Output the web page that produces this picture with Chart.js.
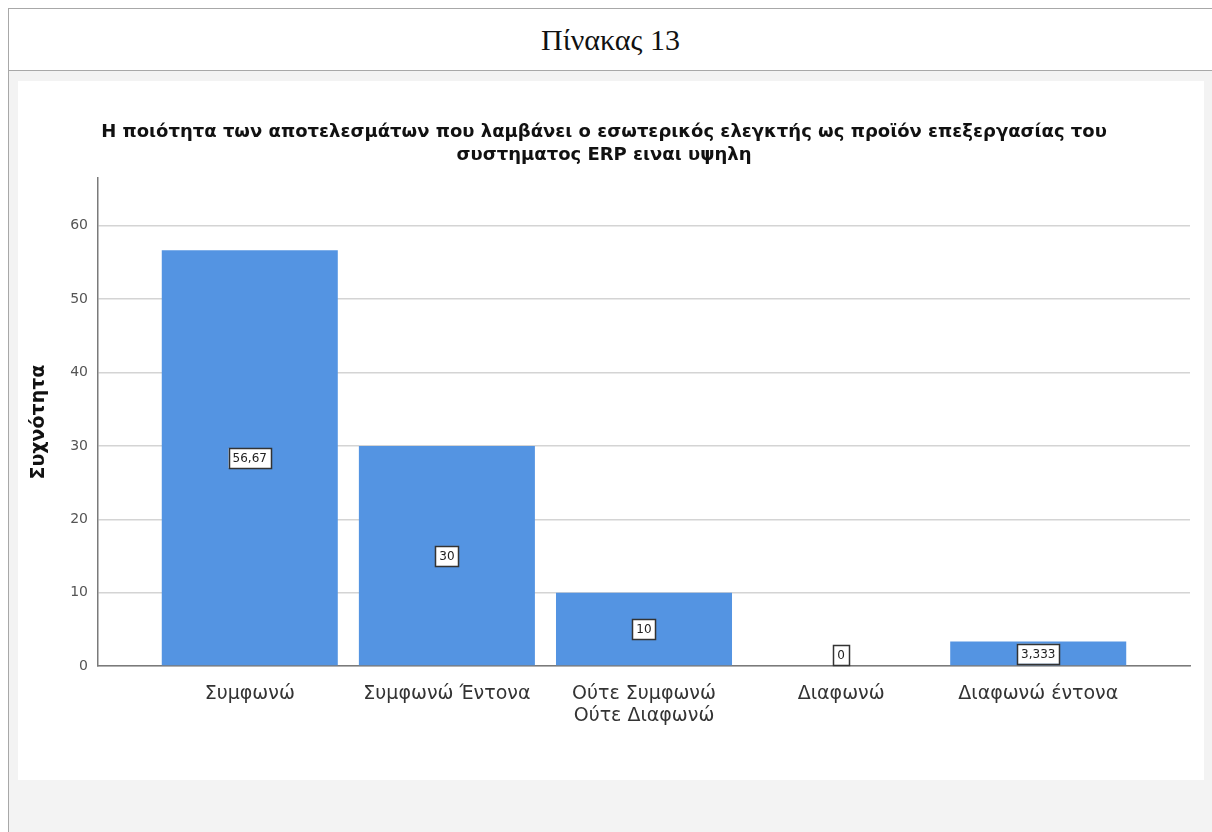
<!DOCTYPE html>
<html lang="el">
<head>
<meta charset="utf-8">
<title>Πίνακας 13</title>
<script src="https://cdn.jsdelivr.net/npm/chart.js@4"></script>
<style>
    body { margin: 0; background: #fff; font-family: "DejaVu Sans", sans-serif; }
    .frame { position: absolute; left: 8px; top: 8px; width: 1220px; height: 840px; border-left: 1px solid #a8a8a8; border-top: 1px solid #a8a8a8; }
    .head { height: 61px; border-bottom: 1px solid #a8a8a8; font-family: "Liberation Serif", "Times New Roman", serif; font-size: 30px; color: #111; line-height: 61px; text-align: center; width: 1203px; }
    .body { background: #f3f3f3; height: 800px; padding: 10px 0 0 9px; }
    .panel { background: #fff; width: 1186px; height: 699px; position: relative; }
</style>
</head>
<body>
<div class="frame">
    <div class="head">Πίνακας 13</div>
    <div class="body">
        <div class="panel"><canvas id="grafico" width="1186" height="699"></canvas></div>
    </div>
</div>
<script>
const categorias = ["Συμφωνώ", "Συμφωνώ Έντονα", ["Ούτε Συμφωνώ", "Ούτε Διαφωνώ"], "Διαφωνώ", "Διαφωνώ έντονα"];
const valores = [56.67, 30, 10, 0, 3.333];
const yTicks = [0, 10, 20, 30, 40, 50, 60];
const titulo = ["Η ποιότητα των αποτελεσμάτων που λαμβάνει ο εσωτερικός ελεγκτής ως προϊόν επεξεργασίας του", "συστηματος ERP ειναι υψηλη"];
const eixoY = "Συχνότητα";

const fonte = '"DejaVu Sans", "Liberation Sans", Arial, sans-serif';

function formatNumber(v) {
    return String(v).replace('.', ',');
}

// caixinhas brancas com o valor no meio de cada barra
const rotulos = {
    id: 'rotulos',
    afterDatasetsDraw(chart) {
        const ctx = chart.ctx;
        const yScale = chart.scales.y;
        const base = yScale.getPixelForValue(0);
        const meta = chart.getDatasetMeta(0);
        ctx.save();
        ctx.font = '12px ' + fonte;
        ctx.textAlign = 'center';
        ctx.textBaseline = 'middle';
        meta.data.forEach((bar, i) => {
            const text = formatNumber(valores[i]);
            const w = ctx.measureText(text).width + 8;
            const h = 20;
            let y = yScale.getPixelForValue(valores[i] / 2);
            if (y + h / 2 > base - 1) y = base - 1 - h / 2;
            const x = bar.x;
            ctx.fillStyle = '#fff';
            ctx.fillRect(x - w / 2, y - h / 2, w, h);
            ctx.strokeStyle = '#333';
            ctx.lineWidth = 1.5;
            ctx.strokeRect(Math.round(x - w / 2) + 0.5, Math.round(y - h / 2) + 0.5, Math.round(w), h);
            ctx.fillStyle = '#222';
            ctx.fillText(text, x, y + 1);
        });
        ctx.restore();
    }
};

new Chart(document.getElementById("grafico"), {
    type: 'bar',
    data: {
        datasets: [{
            data: valores.map((v, i) => ({ x: i, y: v })),
            backgroundColor: "rgb(84,148,226)",
            borderWidth: 0,
            barPercentage: 0.893,
            categoryPercentage: 1
        }]
    },
    options: {
        responsive: false,
        animation: false,
        layout: { padding: { left: 0, right: 14, top: 0, bottom: 0 } },
        plugins: {
            legend: { display: false },
            tooltip: { enabled: false },
            title: {
                display: true,
                text: titulo,
                color: '#111',
                font: { family: fonte, size: 18, weight: 'bold', lineHeight: 1.28 },
                padding: { top: 40, bottom: 11 }
            }
        },
        scales: {
            x: {
                type: 'linear',
                offset: false,
                min: -0.77,
                max: 4.77,
                afterBuildTicks: (scale) => { scale.ticks = categorias.map((c, i) => ({ value: i })); },
                afterFit: (scale) => { scale.height = 114; },
                grid: { display: false },
                border: { display: true, color: '#7a7a7a', width: 1.5 },
                ticks: {
                    autoSkip: false,
                    maxRotation: 0,
                    padding: 9,
                    color: '#333',
                    font: { family: fonte, size: 19, lineHeight: 1.16 },
                    callback: (v) => categorias[v]
                }
            },
            y: {
                min: 0,
                max: 66.5,
                afterBuildTicks: (scale) => { scale.ticks = yTicks.map(v => ({ value: v })); },
                afterFit: (scale) => { scale.width = 80; },
                grid: { color: '#d4d4d4', drawTicks: false, lineWidth: 1.5 },
                border: { display: true, color: '#7a7a7a', width: 1.5 },
                ticks: {
                    padding: 10,
                    color: '#555',
                    font: { family: fonte, size: 14 }
                },
                title: {
                    display: true,
                    text: eixoY,
                    color: '#111',
                    font: { family: fonte, size: 19, weight: 'bold' },
                    padding: { top: 10, bottom: 0 }
                }
            }
        }
    },
    plugins: [rotulos]
});
</script>
</body>
</html>
